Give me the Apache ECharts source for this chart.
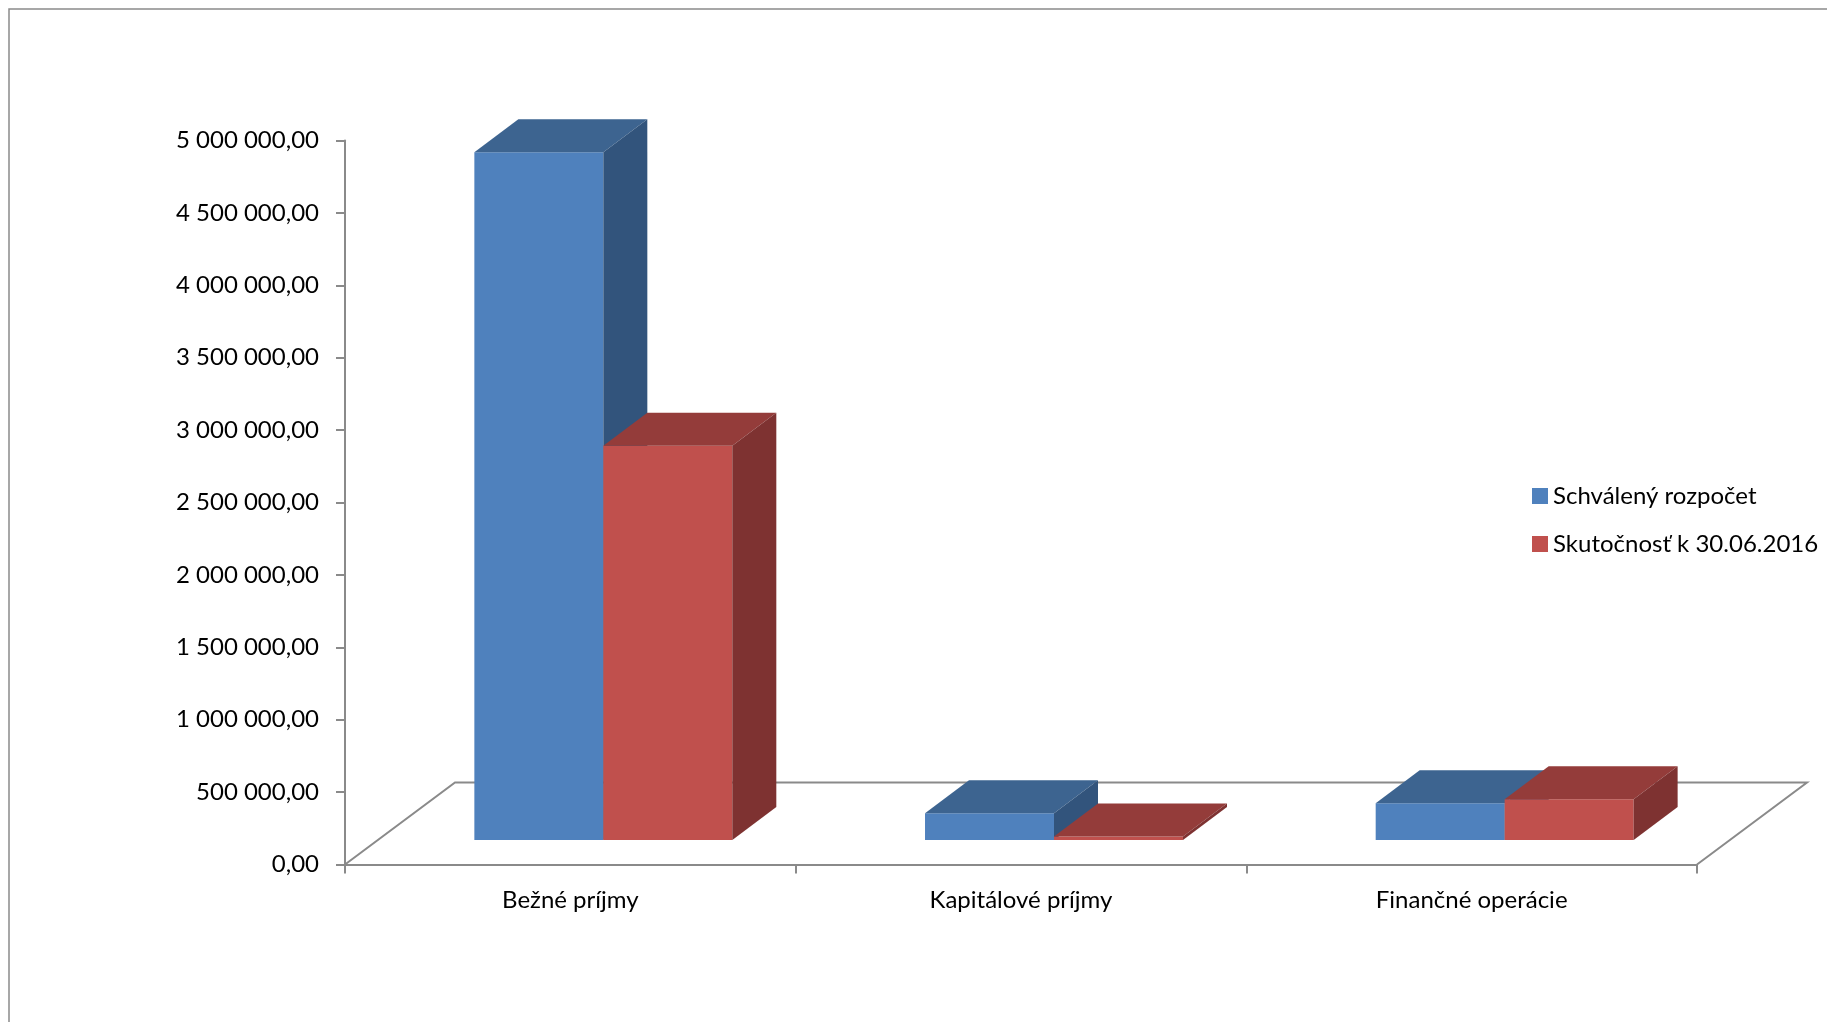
<!DOCTYPE html>
<html>
<head>
<meta charset="utf-8">
<script src="https://cdn.jsdelivr.net/npm/echarts@6/dist/echarts.min.js"></script>
<style>
html,body{margin:0;padding:0;background:#fff;}
#chart{width:1827px;height:1022px;}
</style>
</head>
<body>
<div id="chart"></div>
<script>
const categories = ['Bežné príjmy', 'Kapitálové príjmy', 'Finančné operácie'];
const seriesNames = ['Schválený rozpočet', 'Skutočnosť k 30.06.2016'];
const approved = [4750000, 184000, 253000];
const actual = [2723000, 25000, 281000];
const yMin = 0, yMax = 5000000, yStep = 500000;

const FONT = 'Lato';
const FS = 24;
const AXIS_COLOR = '#8a8a8a';
const palette = [
  { front: '#4F81BD', top: '#3D6490', side: '#32547C' },
  { front: '#C0504D', top: '#943C3A', side: '#7E3231' }
];

function fmt(v) {
  const s = v.toFixed(2).split('.');
  return s[0].replace(/\B(?=(\d{3})+(?!\d))/g, ' ') + ',' + s[1];
}

function barRender(sIdx) {
  return function (params, api) {
    const idx = api.value(0), v = api.value(1);
    const base = api.coord([idx, 0]);
    const top = api.coord([idx, v]);
    const catW = api.size([1, 0])[0];
    const bw = catW * 0.2862;
    const ox = 33, oy = -24.5;
    const dx = 44, dy = -33;
    const x0 = base[0] + ox + (sIdx === 0 ? -bw : 0);
    const x1 = x0 + bw;
    const yb = base[1] + oy, yt = top[1] + oy;
    const c = palette[sIdx];
    return {
      type: 'group',
      children: [
        { type: 'polygon', shape: { points: [[x0, yt], [x1, yt], [x1, yb], [x0, yb]] }, style: { fill: c.front } },
        { type: 'polygon', shape: { points: [[x0, yt], [x0 + dx, yt + dy], [x1 + dx, yt + dy], [x1, yt]] }, style: { fill: c.top } },
        { type: 'polygon', shape: { points: [[x1, yt], [x1 + dx, yt + dy], [x1 + dx, yb + dy], [x1, yb]] }, style: { fill: c.side } }
      ]
    };
  };
}

function floorRender(params, api) {
  const catW = api.size([1, 0])[0];
  const n = categories.length;
  const l = api.coord([0, 0]);
  const r = api.coord([n - 1, 0]);
  const fl = [l[0] - catW / 2, l[1]];
  const fr = [r[0] + catW / 2, r[1]];
  const dx = 110, dy = -82;
  return {
    type: 'polyline',
    shape: { points: [fl, [fl[0] + dx, fl[1] + dy], [fr[0] + dx, fr[1] + dy], fr] },
    style: { stroke: AXIS_COLOR, lineWidth: 2, fill: null }
  };
}

const chart = echarts.init(document.getElementById('chart'), null, { renderer: 'canvas' });
chart.setOption({
  backgroundColor: '#fff',
  animation: false,
  textStyle: { fontFamily: FONT },
  graphic: [{
    type: 'rect', z: -10, silent: true,
    shape: { x: 9, y: 9, width: 1900, height: 1100 },
    style: { fill: null, stroke: '#8a8a8a', lineWidth: 1.5 }
  }],
  grid: { left: 345, right: 130, top: 140.5, bottom: 157.5 },
  legend: {
    orient: 'vertical', left: 1527, top: 479,
    itemWidth: 16, itemHeight: 16, itemGap: 24,
    icon: 'rect',
    data: seriesNames,
    textStyle: { fontFamily: FONT, fontSize: FS, color: '#000' }
  },
  xAxis: {
    type: 'category',
    data: categories,
    axisLine: { show: true, lineStyle: { color: AXIS_COLOR, width: 2 } },
    axisTick: { show: true, length: 9, lineStyle: { color: AXIS_COLOR, width: 2 } },
    axisLabel: { fontFamily: FONT, fontSize: FS, color: '#000', margin: 24 },
    splitLine: { show: false }
  },
  yAxis: {
    type: 'value',
    min: yMin, max: yMax, interval: yStep,
    axisLine: { show: true, lineStyle: { color: AXIS_COLOR, width: 2 } },
    axisTick: { show: true, length: 9, lineStyle: { color: AXIS_COLOR, width: 2 } },
    axisLabel: { fontFamily: FONT, fontSize: FS, color: '#000', margin: 26, formatter: fmt },
    splitLine: { show: false }
  },
  series: [
    { type: 'custom', name: 'floor', silent: true, clip: false, renderItem: floorRender, data: [[0, 0]], encode: { x: 0, y: 1 } },
    { type: 'custom', name: seriesNames[0], clip: false, renderItem: barRender(0), itemStyle: { color: palette[0].front },
      data: approved.map((v, i) => [i, v]), encode: { x: 0, y: 1 } },
    { type: 'custom', name: seriesNames[1], clip: false, renderItem: barRender(1), itemStyle: { color: palette[1].front },
      data: actual.map((v, i) => [i, v]), encode: { x: 0, y: 1 } }
  ]
});
</script>
</body>
</html>
